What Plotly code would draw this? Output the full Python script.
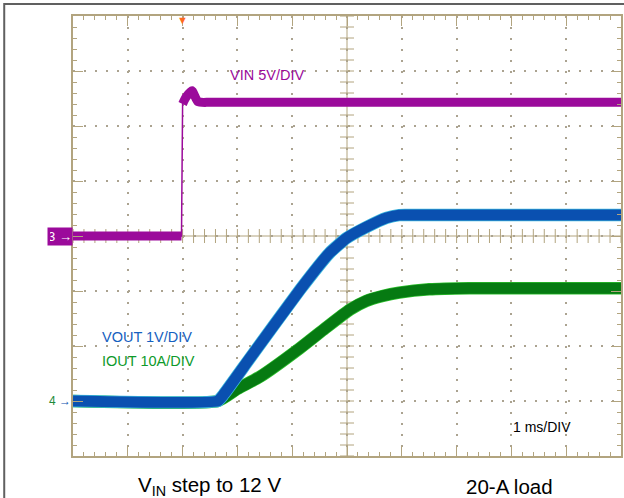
import numpy as np
import plotly.graph_objects as go

# scope settings (units per division)
VIN_SCALE = 5.0      # V/div, channel 3, ground at 0 div
VOUT_SCALE = 1.0     # V/div, ground at -3 div
IOUT_SCALE = 10.0    # A/div, ground at -3 div
OUT_OFFSET = -3.0

# time in ms (1 ms/div, trigger at 0)
vin_t = [-2.0, -0.02, 0.0, 0.06, 0.17, 0.28, 0.5, 8.0]
vin_v = [0.0, 0.0, 12.0, 12.6, 13.2, 12.2, 12.15, 12.15]

vout_t = [-2.0, 0.64, 0.75, 1.23, 2.14, 2.68, 2.99, 3.35, 3.72, 3.95, 4.3, 8.0]
vout_v = [0.0, 0.0, 0.12, 0.78, 2.02, 2.69, 2.96, 3.16, 3.33, 3.38, 3.38, 3.38]

iout_t = [-2.0, 0.64, 1.0, 1.41, 2.14, 2.6, 3.05, 3.35, 3.65, 3.95, 4.5, 5.23, 8.0]
iout_a = [0.0, 0.0, 2.2, 4.4, 9.6, 13.2, 16.6, 18.2, 19.1, 19.7, 20.3, 20.5, 20.5]

TAN = "#B2A47F"
DOT = "#ABA390"
PURPLE = "#9B0A9B"
BLUE = "#0A50B0"
CYAN = "#3DB8DE"
GREEN = "#067A12"
LGREEN = "#2EC02E"
FONT = "Arial, Liberation Sans, sans-serif"


def to_div(vals, scale, offset=0.0):
    return [v / scale + offset for v in vals]


fig = go.Figure()

# centre crosshair ticks (every 0.2 div)
xt = np.arange(-2, 8.001, 0.2)
yt = np.arange(-4, 4.001, 0.2)
fig.add_trace(go.Scatter(x=xt, y=[0] * len(xt), mode="markers", hoverinfo="skip",
                         marker=dict(symbol="line-ns", size=10, line=dict(color=TAN, width=1))))
fig.add_trace(go.Scatter(x=[3] * len(yt), y=yt, mode="markers", hoverinfo="skip",
                         marker=dict(symbol="line-ew", size=10, line=dict(color=TAN, width=1))))

# VIN: thin edge + thick noisy band on the flat parts
vin_d = to_div(vin_v, VIN_SCALE)
fig.add_trace(go.Scatter(x=vin_t, y=vin_d, mode="lines", line=dict(color=PURPLE, width=1.5),
                         hoverinfo="skip"))
thick_t = vin_t[:2] + [None] + vin_t[2:]
thick_d = vin_d[:2] + [None] + vin_d[2:]
fig.add_trace(go.Scatter(x=thick_t, y=thick_d, mode="lines", connectgaps=False,
                         line=dict(color=PURPLE, width=9, shape="spline", smoothing=0.5),
                         hoverinfo="skip"))

# IOUT
iout_d = to_div(iout_a, IOUT_SCALE, OUT_OFFSET)
fig.add_trace(go.Scatter(x=iout_t, y=iout_d, mode="lines",
                         line=dict(color=LGREEN, width=12.5, shape="spline", smoothing=0.5),
                         hoverinfo="skip"))
fig.add_trace(go.Scatter(x=iout_t, y=iout_d, mode="lines",
                         line=dict(color=GREEN, width=11, shape="spline", smoothing=0.5),
                         hoverinfo="skip"))

# VOUT
vout_d = to_div(vout_v, VOUT_SCALE, OUT_OFFSET)
fig.add_trace(go.Scatter(x=vout_t, y=vout_d, mode="lines",
                         line=dict(color=CYAN, width=12.5, shape="spline", smoothing=0.4),
                         hoverinfo="skip"))
fig.add_trace(go.Scatter(x=vout_t, y=vout_d, mode="lines",
                         line=dict(color=BLUE, width=11, shape="spline", smoothing=0.4),
                         hoverinfo="skip"))

fig.add_shape(type="line", xref="x", yref="paper", x0=3, x1=3, y0=0, y1=1,
              line=dict(color=TAN, width=1), layer="below")
fig.add_shape(type="line", xref="paper", yref="y", x0=0, x1=1, y0=0, y1=0,
              line=dict(color=TAN, width=1), layer="below")

# outer frame of the screenshot
fig.add_shape(type="rect", xref="paper", yref="paper", x0=-0.1255, x1=1.3, y0=-0.3, y1=1.027,
              line=dict(color="#606060", width=2))

ann = [
    dict(text="VIN 5V/DIV", x=1.54, y=2.93, xref="x", yref="y", font=dict(color=PURPLE, size=14.5)),
    dict(text="VOUT 1V/DIV", x=-1.5, y=-1.84, xref="x", yref="y", xanchor="left",
         font=dict(color="#1560C0", size=14.5)),
    dict(text="IOUT 10A/DIV", x=-1.5, y=-2.27, xref="x", yref="y", xanchor="left",
         font=dict(color="#0E9A2A", size=14.5)),
    dict(text="1 ms/DIV", x=6.0, y=-3.48, xref="x", yref="y", xanchor="left",
         font=dict(color="black", size=14)),
    dict(text="V<sub>IN</sub> step to 12 V", x=0.249, y=0, xref="paper", yref="paper",
         xanchor="center", yanchor="middle", yshift=-30, font=dict(color="black", size=20.5)),
    dict(text="20-A load", x=0.796, y=0, xref="paper", yref="paper",
         xanchor="center", yanchor="middle", yshift=-30, font=dict(color="black", size=20.5)),
    dict(text="3 \u2192", x=0, y=0, xref="paper", yref="y", xanchor="right", yanchor="middle",
         bgcolor=PURPLE, font=dict(color="white", size=13), borderpad=2, width=20, height=13),
    dict(text="<span style='color:#1E8A3A'>4</span> \u2192", x=0, y=OUT_OFFSET, xref="paper", yref="y",
         xanchor="right", yanchor="middle", font=dict(color=BLUE, size=12)),
    dict(text="\u25BC", x=0, y=1, xref="x", yref="paper", yanchor="top", yshift=4,
         font=dict(color="#FF6A1E", size=11)),
]
for a in ann:
    a.setdefault("showarrow", False)
    a["font"].setdefault("family", FONT)
    fig.add_annotation(**a)

axis_common = dict(
    showticklabels=False, showline=True, linecolor=TAN, linewidth=1.5, mirror="ticks",
    ticks="inside", ticklen=10, tickcolor=TAN, tickwidth=1, dtick=1,
    minor=dict(ticks="inside", ticklen=4, dtick=0.2, tickcolor=TAN, showgrid=False),
    showgrid=True, gridcolor=DOT, gridwidth=1.5, griddash="1.5px,9.5px", zeroline=False,
)
fig.update_xaxes(range=[-2, 8], tick0=-2, **axis_common)
fig.update_yaxes(range=[-4, 4], tick0=-4, **axis_common)

fig.update_layout(
    width=624, height=498,
    margin=dict(l=73, r=1, t=16, b=42),
    paper_bgcolor="white", plot_bgcolor="white",
    showlegend=False,
    font=dict(family=FONT),
)

fig.write_html("out.html", config={"displayModeBar": False},
               post_script="document.body.style.margin='0';document.body.style.overflow='hidden';")
